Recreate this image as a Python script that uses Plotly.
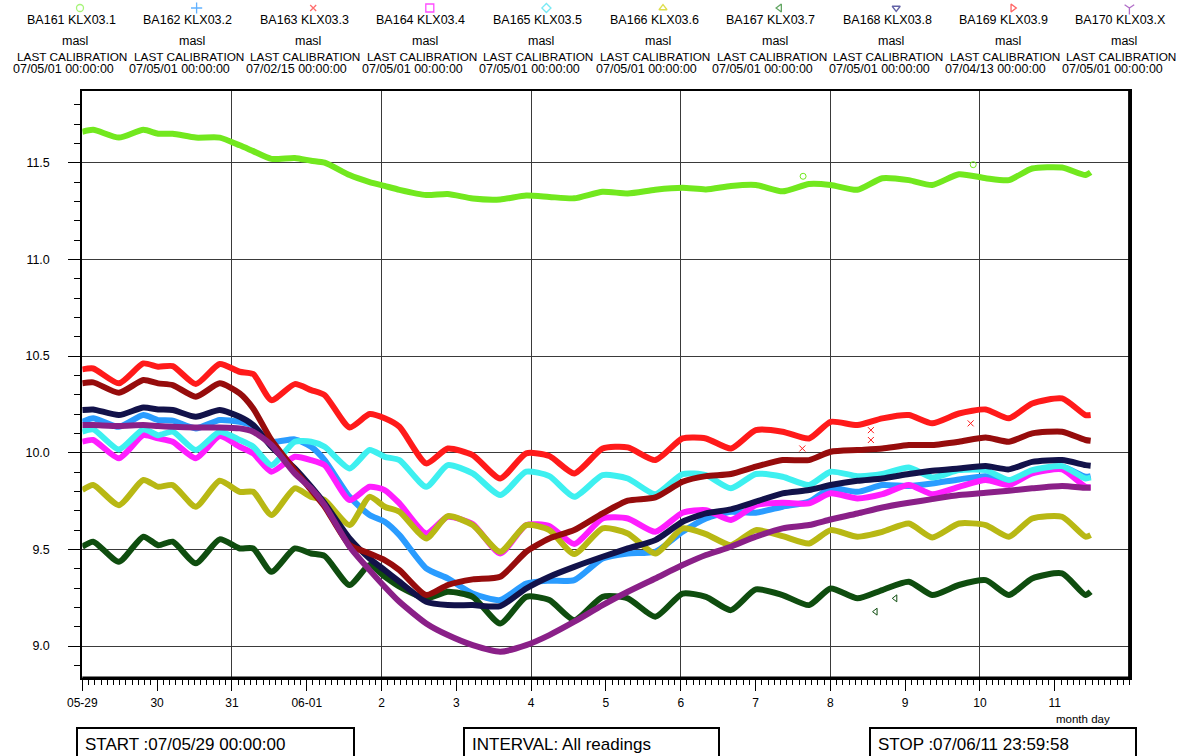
import plotly.graph_objects as go

# ---------------- data ----------------
TIMES = ["2007-05-29 00:00", "2007-05-29 03:30", "2007-05-29 11:45", "2007-05-29 19:35",
         "2007-05-30 00:20", "2007-05-30 05:00", "2007-05-30 12:25", "2007-05-30 20:05",
         "2007-05-31 02:30", "2007-05-31 06:50", "2007-05-31 12:40", "2007-05-31 20:10",
         "2007-06-01 01:25", "2007-06-01 05:45", "2007-06-01 13:45", "2007-06-01 20:10",
         "2007-06-02 01:00", "2007-06-02 05:45", "2007-06-02 14:20", "2007-06-02 21:15",
         "2007-06-03 05:15", "2007-06-03 14:05", "2007-06-03 22:25", "2007-06-04 05:50",
         "2007-06-04 13:50", "2007-06-04 22:55", "2007-06-05 07:00", "2007-06-05 15:50",
         "2007-06-06 00:35", "2007-06-06 08:05", "2007-06-06 16:05", "2007-06-07 00:05",
         "2007-06-07 08:40", "2007-06-07 17:10", "2007-06-08 00:05", "2007-06-08 08:40",
         "2007-06-08 16:40", "2007-06-09 01:10", "2007-06-09 08:40", "2007-06-09 17:15",
         "2007-06-10 01:50", "2007-06-10 09:15", "2007-06-10 16:45", "2007-06-11 02:20",
         "2007-06-11 09:50", "2007-06-11 11:30"]

BA161 = [11.66, 11.67, 11.63, 11.67, 11.65, 11.65, 11.63, 11.63, 11.59, 11.56, 11.52, 11.525,
         11.51, 11.50, 11.436, 11.40, 11.38, 11.36, 11.333, 11.338, 11.315, 11.31, 11.33, 11.323,
         11.316, 11.35, 11.341, 11.36, 11.37, 11.362, 11.38, 11.385, 11.352, 11.39, 11.385, 11.36,
         11.42, 11.41, 11.385, 11.44, 11.42, 11.41, 11.47, 11.475, 11.436, 11.45]
BA162 = [10.160, 10.178, 10.134, 10.195, 10.169, 10.166, 10.126, 10.169, 10.160, 10.138, 10.057,
         10.069, 10.031, 9.962, 9.772, 9.678, 9.643, 9.574, 9.402,
         9.350, 9.272, 9.238, 9.324, 9.338, 9.341, 9.453, 9.479, 9.488, 9.591, 9.660, 9.695, 9.690, 9.721,
         9.747, 9.816, 9.798, 9.833, 9.828, 9.841, 9.862, 9.879, 9.850, 9.897, 9.928, 9.876, 9.879]
BA163 = [10.431, 10.436, 10.359, 10.462, 10.445, 10.448, 10.355, 10.459, 10.419, 10.407, 10.272,
         10.355, 10.324, 10.298, 10.131, 10.200, 10.178, 10.134, 9.945,
         10.022, 9.988, 9.867, 9.997, 9.983, 9.893, 10.022, 10.028, 9.962, 10.074, 10.074, 10.022, 10.117, 10.109,
         10.074, 10.160, 10.143, 10.178, 10.195, 10.152, 10.203, 10.224, 10.178, 10.255, 10.281, 10.195, 10.195]
BA164 = [10.057, 10.066, 9.971, 10.091, 10.074, 10.057, 9.971, 10.086, 10.031, 9.997, 9.902,
         9.979, 9.962, 9.936, 9.755, 9.824, 9.807, 9.738, 9.583,
         9.669, 9.631, 9.479, 9.626, 9.621, 9.528, 9.660, 9.660, 9.591, 9.690, 9.703, 9.652, 9.729, 9.741,
         9.738, 9.790, 9.764, 9.786, 9.833, 9.786, 9.824, 9.859, 9.833, 9.893, 9.914, 9.824, 9.821]
BA165 = [10.109, 10.121, 10.017, 10.121, 10.091, 10.109, 10.014, 10.109, 10.066, 10.031, 9.936,
         10.057, 10.057, 10.031, 9.919, 10.014, 9.979, 9.962, 9.824,
         9.936, 9.893, 9.781, 9.902, 9.879, 9.772, 9.884, 9.867, 9.786, 9.890, 9.884, 9.816, 9.890, 9.876,
         9.833, 9.902, 9.879, 9.890, 9.924, 9.872, 9.910, 9.910, 9.859, 9.910, 9.931, 9.867, 9.872]
BA166 = [9.807, 9.833, 9.729, 9.859, 9.824, 9.833, 9.721, 9.855, 9.798, 9.798, 9.678,
         9.816, 9.772, 9.755, 9.626, 9.772, 9.721, 9.695, 9.557,
         9.672, 9.626, 9.488, 9.626, 9.600, 9.476, 9.609, 9.583, 9.479, 9.609, 9.579, 9.522, 9.600, 9.569,
         9.531, 9.600, 9.566, 9.591, 9.634, 9.562, 9.634, 9.626, 9.566, 9.660, 9.669, 9.566, 9.574]
BA167 = [9.514, 9.540, 9.436, 9.566, 9.522, 9.540, 9.428, 9.552, 9.505, 9.505, 9.384,
         9.505, 9.479, 9.466, 9.316, 9.419, 9.359, 9.307, 9.247,
         9.281, 9.255, 9.117, 9.255, 9.238, 9.134, 9.255, 9.247, 9.152, 9.272, 9.255, 9.186, 9.293, 9.264,
         9.212, 9.298, 9.247, 9.290, 9.333, 9.264, 9.316, 9.341, 9.264, 9.350, 9.376, 9.264, 9.281]
BA168 = [10.221, 10.224, 10.195, 10.234, 10.224, 10.221, 10.186, 10.221, 10.186, 10.143, 10.031,
         9.919, 9.824, 9.738, 9.557, 9.453, 9.393, 9.333, 9.229,
         9.212, 9.212, 9.207, 9.298, 9.359, 9.410, 9.462, 9.505, 9.548, 9.643, 9.686, 9.707, 9.747, 9.790,
         9.807, 9.833, 9.855, 9.867, 9.890, 9.907, 9.919, 9.931, 9.914, 9.953, 9.962, 9.936, 9.933]
BA169 = [10.359, 10.364, 10.310, 10.376, 10.359, 10.350, 10.290, 10.359, 10.307, 10.229, 10.066,
         9.910, 9.807, 9.721, 9.522, 9.479, 9.445, 9.393, 9.264,
         9.316, 9.345, 9.359, 9.488, 9.557, 9.600, 9.686, 9.752, 9.769, 9.850, 9.879, 9.890, 9.928, 9.962,
         9.962, 10.005, 10.014, 10.022, 10.040, 10.040, 10.057, 10.079, 10.057, 10.100, 10.109, 10.066, 10.062]
BA170 = [10.143, 10.143, 10.138, 10.143, 10.138, 10.134, 10.131, 10.131, 10.126, 10.109, 10.040,
         9.893, 9.816, 9.729, 9.514, 9.393, 9.307, 9.229, 9.117,
         9.057, 9.005, 8.971, 9.005, 9.057, 9.126, 9.212, 9.281, 9.350, 9.419, 9.471, 9.514, 9.566, 9.609,
         9.626, 9.655, 9.686, 9.717, 9.741, 9.760, 9.781, 9.793, 9.803, 9.816, 9.828, 9.819, 9.819]

# isolated stray readings
BA161_OUT_T = ["2007-06-07 15:15", "2007-06-09 21:50"]
BA161_OUT_V = [11.43, 11.49]
BA163_OUT_T = ["2007-06-07 15:00", "2007-06-08 13:00", "2007-06-08 13:00", "2007-06-09 21:00"]
BA163_OUT_V = [10.022, 10.117, 10.066, 10.152]
BA167_OUT_T = ["2007-06-08 14:30", "2007-06-08 20:50"]
BA167_OUT_V = [9.178, 9.247]

NAMES = ["BA161 KLX03.1", "BA162 KLX03.2", "BA163 KLX03.3", "BA164 KLX03.4", "BA165 KLX03.5",
         "BA166 KLX03.6", "BA167 KLX03.7", "BA168 KLX03.8", "BA169 KLX03.9", "BA170 KLX03.X"]
UNITS = ["masl"] * 10
CAL_DATES = ["07/05/01 00:00:00", "07/05/01 00:00:00", "07/02/15 00:00:00", "07/05/01 00:00:00",
             "07/05/01 00:00:00", "07/05/01 00:00:00", "07/05/01 00:00:00", "07/05/01 00:00:00",
             "07/04/13 00:00:00", "07/05/01 00:00:00"]
TICK_DAYS = ["2007-05-29", "2007-05-30", "2007-05-31", "2007-06-01", "2007-06-02", "2007-06-03",
             "2007-06-04", "2007-06-05", "2007-06-06", "2007-06-07", "2007-06-08", "2007-06-09",
             "2007-06-10", "2007-06-11"]
TICK_TEXT = ["05-29", "30", "31", "06-01", "2", "3", "4", "5", "6", "7", "8", "9", "10", "11"]

SERIES = [BA161, BA162, BA163, BA164, BA165, BA166, BA167, BA168, BA169, BA170]
LINE_COLORS = ["#72e81e", "#2a9cff", "#ff1a1a", "#ff1eff", "#3ef0f0",
               "#b8b814", "#0f4d0f", "#12124a", "#960c0c", "#8a2088"]
LEG_COLORS = ["#80f040", "#1e90ff", "#ff3030", "#ff00ff", "#40e0f0",
              "#d0d000", "#208020", "#202080", "#ff2020", "#9030b0"]
SYMBOLS = ["circle-open", "cross-thin-open", "x-thin-open", "square-open", "diamond-open",
           "triangle-up-open", "triangle-left-open", "triangle-down-open", "triangle-right-open",
           "y-down-open"]
SYM_SIZE = [7, 8, 6, 8, 7, 7, 7, 7, 7, 8]

W, H = 1192, 756
PL, PR, PT, PB = 82.3, 1129.6, 91, 678
FONT = "Liberation Sans, Arial, sans-serif"

fig = go.Figure()

for vals, col in zip(SERIES, LINE_COLORS):
    fig.add_trace(go.Scatter(x=TIMES, y=vals, mode="lines",
                             line=dict(color=col, width=6, shape="spline", smoothing=0.6),
                             showlegend=False, hoverinfo="skip"))

for tt, vv, i in [(BA161_OUT_T, BA161_OUT_V, 0), (BA163_OUT_T, BA163_OUT_V, 2),
                  (BA167_OUT_T, BA167_OUT_V, 6)]:
    fig.add_trace(go.Scatter(x=tt, y=vv, mode="markers",
                             marker=dict(symbol=SYMBOLS[i], size=6, color=LINE_COLORS[i],
                                         line=dict(width=1, color=LINE_COLORS[i])),
                             showlegend=False, hoverinfo="skip"))

# dummy trace so that the tick/label axis is drawn
fig.add_trace(go.Scatter(x=[TIMES[0]], y=[None], xaxis="x3", yaxis="y",
                         mode="markers", showlegend=False, hoverinfo="skip"))

# header legend markers (column index axis)
fig.add_trace(go.Scatter(x=list(range(len(NAMES))), y=[0] * len(NAMES), xaxis="x2", yaxis="y2",
                         mode="markers",
                         marker=dict(symbol=SYMBOLS, size=SYM_SIZE, color=LEG_COLORS,
                                     line=dict(width=1.3, color=LEG_COLORS)),
                         showlegend=False, hoverinfo="skip"))

col_w = 116.6
m0 = 80.0
xr = ["2007-05-29 00:00", "2007-06-12 00:00"]

fig.update_layout(
    width=W, height=H, autosize=False,
    margin=dict(l=0, r=0, t=0, b=0, autoexpand=False),
    paper_bgcolor="white", plot_bgcolor="white",
    font=dict(family=FONT, color="black", size=12),
    xaxis=dict(type="date", domain=[PL / W, PR / W], range=xr, anchor="y", automargin=False,
               tickmode="linear", tick0="2007-05-29", dtick=2 * 86400000,
               showgrid=True, gridcolor="#3a3a3a", gridwidth=1,
               showticklabels=False, ticks="",
               showline=True, linecolor="black", linewidth=2, mirror=True, zeroline=False),
    xaxis3=dict(type="date", overlaying="x", anchor="y", range=xr, automargin=False,
                tickmode="array", tickvals=TICK_DAYS, ticktext=TICK_TEXT,
                ticks="outside", ticklen=12, tickwidth=1, tickcolor="black",
                minor=dict(tickmode="linear", tick0="2007-05-29", dtick=7200000,
                           ticks="outside", ticklen=6, tickwidth=1, tickcolor="black",
                           showgrid=False),
                showgrid=False, showline=False, zeroline=False, ticklabelstandoff=2,
                tickfont=dict(family=FONT, size=12, color="black")),
    yaxis=dict(domain=[1 - PB / H, 1 - PT / H], range=[8.835, 11.871], anchor="x",
               automargin=False,
               tickmode="linear", tick0=9.0, dtick=0.5, tickformat=".1f",
               ticks="outside", ticklen=12, tickwidth=1, tickcolor="black",
               minor=dict(tickmode="linear", tick0=9.0, dtick=0.1, ticks="outside",
                          ticklen=6, tickwidth=1, tickcolor="black", showgrid=False),
               showgrid=True, gridcolor="#3a3a3a", gridwidth=1,
               showline=True, linecolor="black", linewidth=2, mirror=True, zeroline=False,
               ticklabelstandoff=16,
               tickfont=dict(family=FONT, size=12.5, color="black")),
    xaxis2=dict(domain=[0, 1], range=[-m0 / col_w, (W - m0) / col_w], anchor="y2",
                visible=False, fixedrange=True, automargin=False),
    yaxis2=dict(domain=[1 - PT / H, 1], range=[-83, 8], anchor="x2",
                visible=False, fixedrange=True, automargin=False),
)

ann = []
hf = dict(family=FONT, size=12.5, color="black")
cf = dict(family=FONT, size=11.8, color="black")
for i in range(len(NAMES)):
    ann.append(dict(x=i, y=-12, xref="x2", yref="y2", xshift=-9, text=NAMES[i],
                    showarrow=False, font=hf, xanchor="center", yanchor="middle"))
    ann.append(dict(x=i, y=-33, xref="x2", yref="y2", xshift=-5, text=UNITS[i],
                    showarrow=False, font=hf, xanchor="center", yanchor="middle"))
    ann.append(dict(x=i, y=-49, xref="x2", yref="y2", xshift=-8, text="LAST CALIBRATION",
                    showarrow=False, font=cf, xanchor="center", yanchor="middle"))
    ann.append(dict(x=i, y=-61, xref="x2", yref="y2", xshift=-17, text=CAL_DATES[i],
                    showarrow=False, font=hf, xanchor="center", yanchor="middle"))

ann.append(dict(x=1083 / W, y=1 - 719 / H, xref="paper", yref="paper", text="month day",
                showarrow=False, font=dict(family=FONT, size=11.5), xanchor="center",
                yanchor="middle"))

boxes = [(77, 354, "START :07/05/29 00:00:00"),
         (464, 719, "INTERVAL: All readings"),
         (870, 1136, "STOP :07/06/11 23:59:58")]
shapes = []
for x0, x1, txt in boxes:
    shapes.append(dict(type="rect", xref="paper", yref="paper",
                       x0=x0 / W, x1=x1 / W, y0=-0.06, y1=1 - 728 / H,
                       line=dict(color="black", width=2), fillcolor="rgba(0,0,0,0)"))
    ann.append(dict(x=(x0 + 6) / W, y=1 - 744 / H, xref="paper", yref="paper", text=txt,
                    showarrow=False, font=dict(family=FONT, size=17, color="black"),
                    xanchor="left", yanchor="middle"))

# heavier bottom and right frame edges, as in the reference
shapes.append(dict(type="line", xref="x domain", yref="y domain", x0=0, x1=1.001, y0=0, y1=0,
                   line=dict(color="black", width=3)))
shapes.append(dict(type="line", xref="x domain", yref="y domain", x0=1, x1=1, y0=0, y1=1,
                   line=dict(color="black", width=3)))

fig.update_layout(annotations=ann, shapes=shapes)

fig.write_html("out.html")
